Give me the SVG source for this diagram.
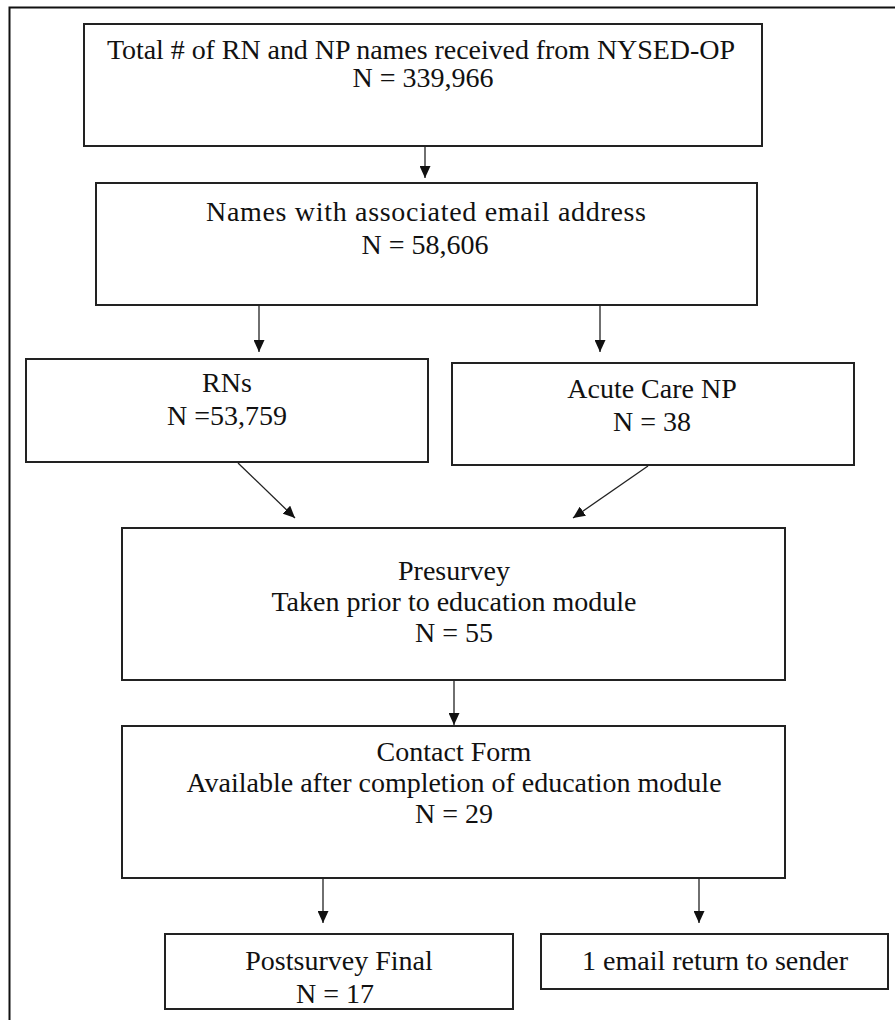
<svg xmlns="http://www.w3.org/2000/svg" width="895" height="1020" viewBox="0 0 895 1020">
  <style>
    .box { fill: #ffffff; stroke: #222222; stroke-width: 2; }
    .frame { fill: none; stroke: #111111; stroke-width: 2; }
    .lbl { font-family: "Liberation Serif", "Times New Roman", serif; font-size: 28px; fill: #111111; text-anchor: middle; }
    .edge { stroke: #222222; stroke-width: 1.3; fill: none; marker-end: url(#head); }
  </style>
  <defs>
    <marker id="head" markerUnits="userSpaceOnUse" markerWidth="12" markerHeight="11" refX="12" refY="5.5" orient="auto">
      <path d="M0,0 L12,5.5 L0,11 z" fill="#111111"/>
    </marker>
  </defs>

  <rect width="895" height="1020" fill="#ffffff"/>
  <!-- page frame (left and top edges) -->
  <path class="frame" d="M9.5,1020 V7.5 H895"/>

  <g id="total">
    <rect class="box" x="84" y="24" width="678" height="122"/>
    <text class="lbl" x="421" y="59" textLength="628" lengthAdjust="spacing">Total # of RN and NP names received from NYSED-OP</text>
    <text class="lbl" x="423" y="87">N = 339,966</text>
  </g>

  <g id="email">
    <rect class="box" x="96" y="183" width="661" height="122"/>
    <text class="lbl" x="426" y="221" textLength="440" lengthAdjust="spacing">Names with associated email address</text>
    <text class="lbl" x="425" y="254">N = 58,606</text>
  </g>

  <g id="rns">
    <rect class="box" x="26" y="359" width="402" height="103"/>
    <text class="lbl" x="227" y="392">RNs</text>
    <text class="lbl" x="227" y="425">N =53,759</text>
  </g>

  <g id="acute">
    <rect class="box" x="452" y="363" width="402" height="102"/>
    <text class="lbl" x="652" y="398">Acute Care NP</text>
    <text class="lbl" x="652" y="431">N = 38</text>
  </g>

  <g id="presurvey">
    <rect class="box" x="122" y="528" width="663" height="152"/>
    <text class="lbl" x="454" y="580">Presurvey</text>
    <text class="lbl" x="454" y="611">Taken prior to education module</text>
    <text class="lbl" x="454" y="642">N = 55</text>
  </g>

  <g id="contact">
    <rect class="box" x="122" y="726" width="663" height="152"/>
    <text class="lbl" x="454" y="761">Contact Form</text>
    <text class="lbl" x="454" y="792">Available after completion of education module</text>
    <text class="lbl" x="454" y="823">N = 29</text>
  </g>

  <g id="postsurvey">
    <rect class="box" x="165" y="934" width="348" height="75"/>
    <text class="lbl" x="339" y="970">Postsurvey Final</text>
    <text class="lbl" x="335" y="1003">N = 17</text>
  </g>

  <g id="returned">
    <rect class="box" x="541" y="934" width="347" height="55"/>
    <text class="lbl" x="715" y="970">1 email return to sender</text>
  </g>

  <g id="connectors">
    <line class="edge" x1="425" y1="146" x2="425" y2="178"/>
    <line class="edge" x1="259" y1="305" x2="259" y2="352"/>
    <line class="edge" x1="600" y1="305" x2="600" y2="352"/>
    <line class="edge" x1="238" y1="463" x2="295" y2="518"/>
    <line class="edge" x1="648" y1="466" x2="573" y2="518"/>
    <line class="edge" x1="454" y1="680" x2="454" y2="725"/>
    <line class="edge" x1="323" y1="878" x2="323" y2="923"/>
    <line class="edge" x1="699" y1="878" x2="699" y2="923"/>
  </g>
</svg>
